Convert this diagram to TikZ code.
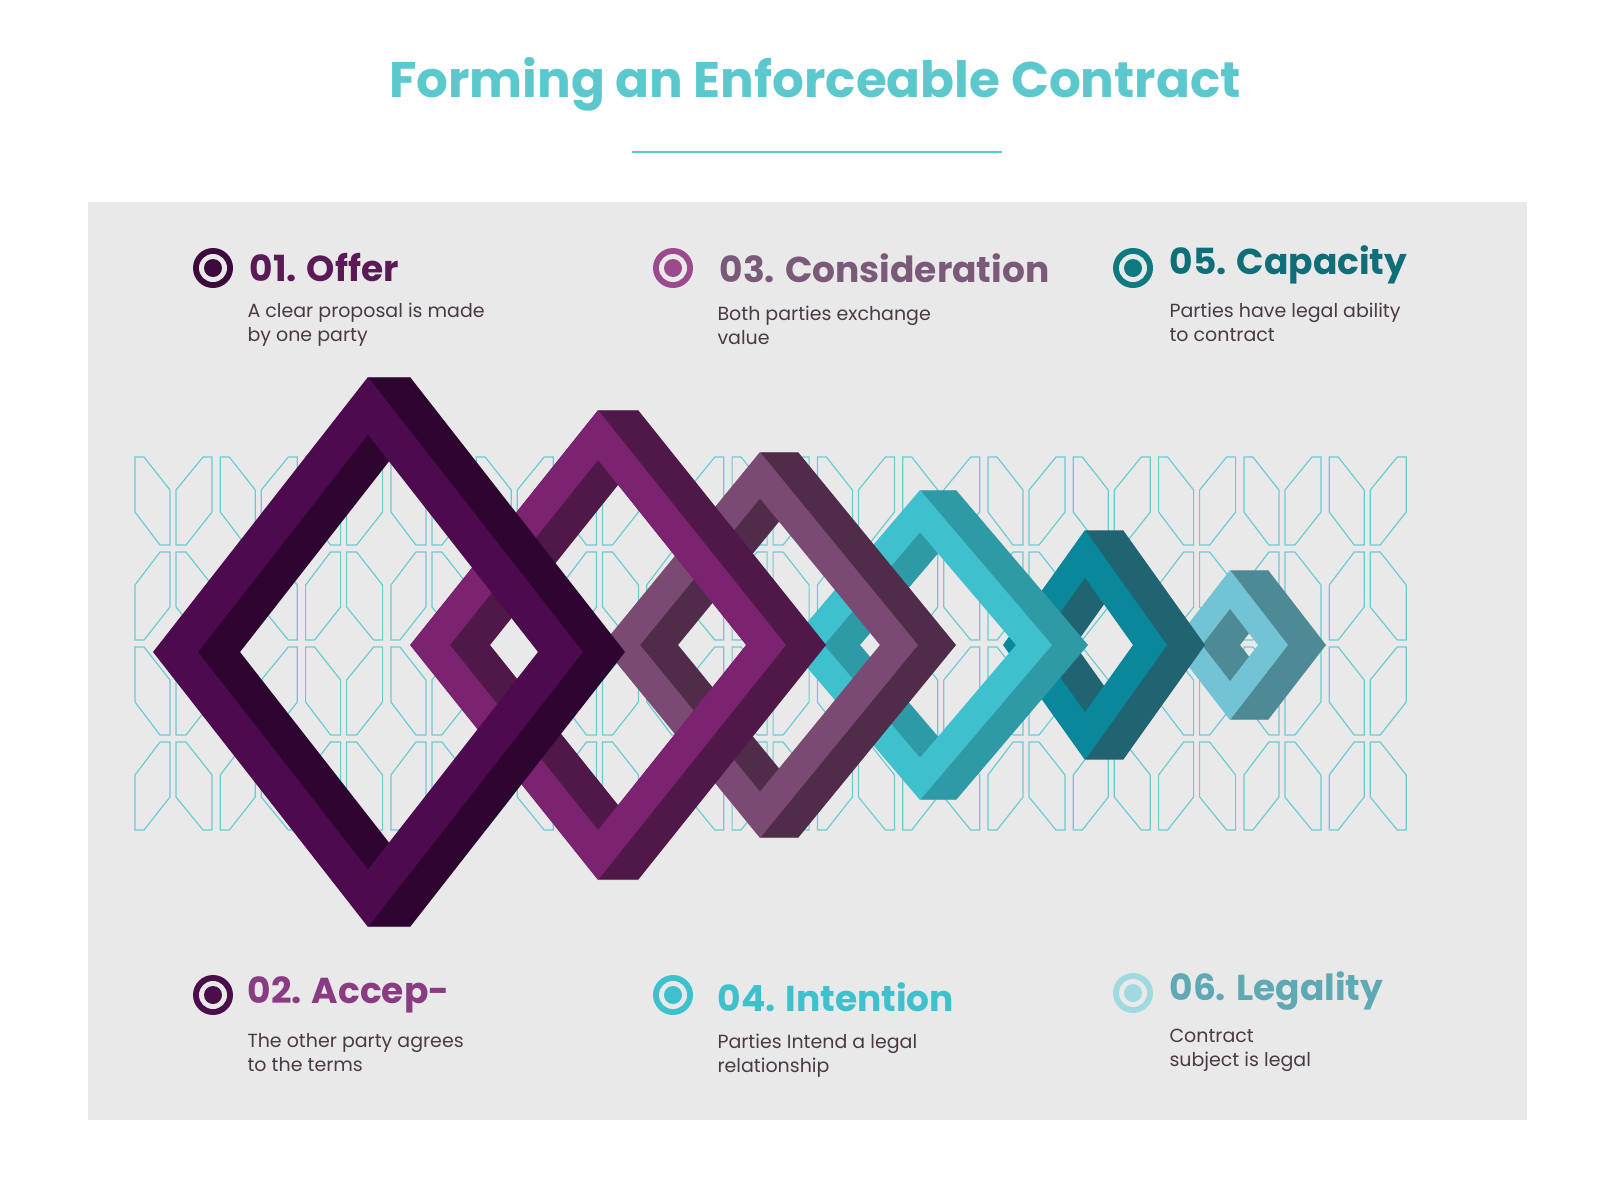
\documentclass[tikz,border=0pt]{standalone}
\usepackage{fontspec}
\setmainfont{Poppins}
\definecolor{bgp}{HTML}{E9E9EA}
\definecolor{teal}{HTML}{5BC8CD}
\definecolor{pat}{HTML}{6CCBD2}
\definecolor{body}{HTML}{4A3A46}
\newcommand\dmd[8]{%
 \definecolor{dfront}{HTML}{#7}\definecolor{dside}{HTML}{#8}%
 \pgfmathsetmacro\iw{#3-#5}\pgfmathsetmacro\ih{#4-#5*#4/#3}%
 \foreach \s in {#6,...,1}{%
  \fill[dside,even odd rule,xshift=\s pt] (#1,#2-#4)--(#1+#3,#2)--(#1,#2+#4)--(#1-#3,#2)--cycle
   (#1,#2-\ih)--(#1+\iw,#2)--(#1,#2+\ih)--(#1-\iw,#2)--cycle;}
 \fill[dfront,even odd rule] (#1,#2-#4)--(#1+#3,#2)--(#1,#2+#4)--(#1-#3,#2)--cycle
   (#1,#2-\ih)--(#1+\iw,#2)--(#1,#2+\ih)--(#1-\iw,#2)--cycle;}
\newcommand\icon[3]{%
 \definecolor{icc}{HTML}{#3}%
 \fill[icc] (#1,#2) circle (20);
 \fill[bgp] (#1,#2) circle (14);
 \fill[icc] (#1,#2) circle (9);}
\tikzset{head/.style={anchor=west,font=\bfseries\fontsize{36}{40}\selectfont},
 txt/.style={anchor=north west,align=left,text=body,font=\fontsize{19}{24}\selectfont}}
\begin{document}
\begin{tikzpicture}[x=1pt,y=-1pt]
\useasboundingbox (0,0) rectangle (1600,1186);
\fill[white] (0,0) rectangle (1600,1186);
\node[font=\bfseries\fontsize{50}{56}\selectfont,text=teal] (title) at (815,84) {Forming an Enforceable Contract};
\draw[teal,line width=1.5pt] (632,152) -- (1002,152);
\fill[bgp] (88,202) rectangle (1527,1120);
% pattern
\foreach \r/\y/\f in {0/457/1,1/640/-1,2/647/1,3/830/-1}{
 \foreach \i in {0,...,14}{
  \begin{scope}[shift={(135+\i*85.3,\y)},yscale=\f]
   \draw[pat,line width=1.2pt] (0,0)--(9,0)--(35,33)--(35,88)--(25,88)--(0,55)--cycle;
   \draw[pat,line width=1.2pt] (77,0)--(68,0)--(41,33)--(41,88)--(51,88)--(77,55)--cycle;
  \end{scope}}}
% diamonds back to front
\dmd{1230}{645}{58}{75}{30}{38}{72C3D3}{4E8A95}
\dmd{1085}{645}{82}{115}{34}{38}{0A879B}{1F6470}
\dmd{920}{645}{132}{155}{36}{36}{3EC1CC}{2E9AA5}
\dmd{760}{645}{158}{193}{38}{38}{7A4A72}{502C4A}
\dmd{598}{645}{188}{235}{40}{40}{7B2270}{4F1848}
\dmd{368}{652}{215}{275}{45}{42}{4E0A4E}{2E0530}
% labels
\icon{213}{268}{3D0A3E}
\node[head,text={rgb,255:red,90;green,26;blue,85}] (h1) at (246,268) {01. Offer};
\node[txt] (t1) at (244,300) {A clear proposal is made\\by one party};
\icon{673}{268}{9C4A8E}
\node[head,text={rgb,255:red,122;green,90;blue,120}] (h3) at (716,268) {03. Consideration};
\node[txt] (t3) at (714,303) {Both parties exchange\\value};
\icon{1133}{268}{0E7A80}
\node[head,text={rgb,255:red,15;green,110;blue,120}] (h5) at (1166,265) {05. Capacity};
\node[txt] (t5) at (1166,300) {Parties have legal ability\\to contract};
\icon{213}{995}{4A0E4A}
\node[head,text={rgb,255:red,138;green,60;blue,130}] (h2) at (244,995) {02. Accep-};
\node[txt] (t2) at (244,1030) {The other party agrees\\to the terms};
\icon{673}{995}{3EC1CC}
\node[head,text={rgb,255:red,62;green,193;blue,204}] (h4) at (714,997) {04. Intention};
\node[txt] (t4) at (714,1030) {Parties Intend a legal\\relationship};
\icon{1133}{993}{9EDAE0}
\node[head,text={rgb,255:red,95;green,169;blue,181}] (h6) at (1166,991) {06. Legality};
\node[txt] (t6) at (1166,1026) {Contract\\subject is legal};
\end{tikzpicture}
\end{document}
